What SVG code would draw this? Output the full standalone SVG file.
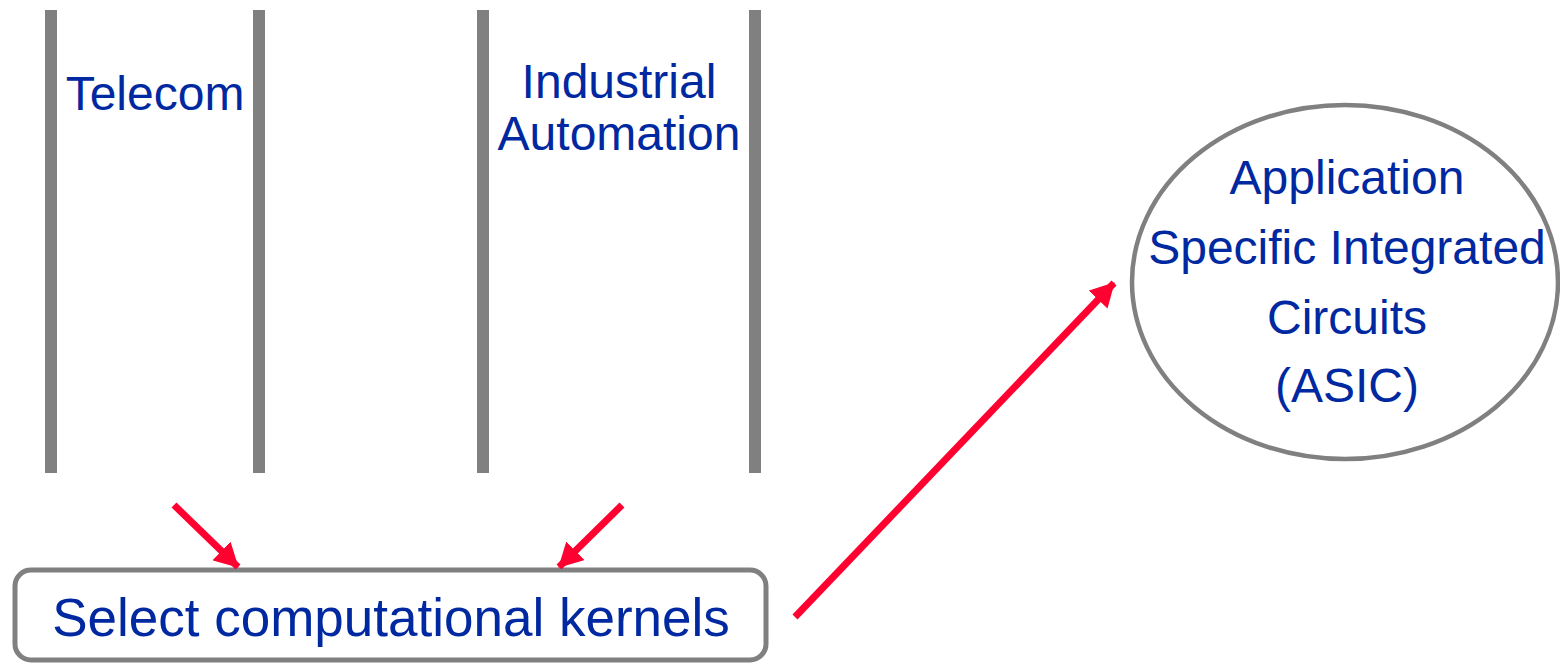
<svg xmlns="http://www.w3.org/2000/svg" width="1560" height="664" viewBox="0 0 1560 664">
  <style>
    .lbl { font-family: "Liberation Sans", Arial, sans-serif; font-size: 48px; fill: #0028a0; text-anchor: middle; }
    .big { font-size: 53px; }
    .bar { fill: #808080; }
    .edge { stroke: #ff0030; stroke-width: 7; fill: none; }
  </style>
  <defs>
    <marker id="head" markerUnits="userSpaceOnUse" markerWidth="24" markerHeight="26" viewBox="0 0 24 26" refX="23" refY="13" orient="auto">
      <path d="M0,0 L24,13 L0,26 Z" fill="#ff0030"/>
    </marker>
  </defs>
  <rect width="1560" height="664" fill="#ffffff"/>

  <g id="telecom">
    <rect class="bar" x="45" y="10" width="12" height="463"/>
    <rect class="bar" x="253" y="10" width="12" height="463"/>
    <text class="lbl" x="155" y="110">Telecom</text>
  </g>

  <g id="industrial-automation">
    <rect class="bar" x="477" y="10" width="12" height="463"/>
    <rect class="bar" x="749" y="10" width="12" height="463"/>
    <text class="lbl" x="619" y="98">Industrial</text>
    <text class="lbl" x="619" y="150">Automation</text>
  </g>

  <g id="select-kernels">
    <rect x="15" y="570" width="751" height="90" rx="16" fill="#ffffff" stroke="#808080" stroke-width="5"/>
    <text class="lbl big" x="391" y="636">Select computational kernels</text>
  </g>

  <g id="asic">
    <ellipse cx="1345" cy="282" rx="213" ry="177" fill="#ffffff" stroke="#808080" stroke-width="4.5"/>
    <text class="lbl" x="1347" y="194">Application</text>
    <text class="lbl" x="1347" y="264">Specific Integrated</text>
    <text class="lbl" x="1347" y="334">Circuits</text>
    <text class="lbl" x="1347" y="402">(ASIC)</text>
  </g>

  <g id="connectors">
    <line class="edge" x1="174" y1="505" x2="238" y2="567" marker-end="url(#head)"/>
    <line class="edge" x1="622" y1="505" x2="559" y2="567" marker-end="url(#head)"/>
    <line class="edge" x1="795" y1="617" x2="1114" y2="283" marker-end="url(#head)"/>
  </g>
</svg>
